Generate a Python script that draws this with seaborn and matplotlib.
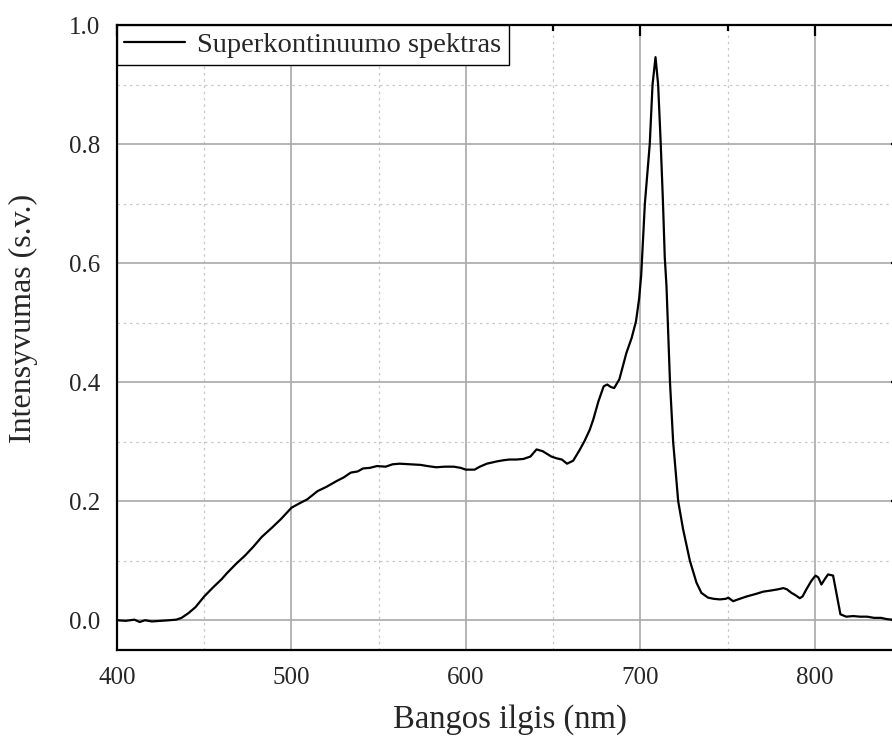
import numpy as np
import pandas as pd
import matplotlib
matplotlib.use("Agg")
import matplotlib.pyplot as plt
from matplotlib.ticker import MultipleLocator
import seaborn as sns

wavelength = [400, 405, 410, 413, 416, 420, 425, 430, 434, 437, 441, 445, 450, 455, 460, 463,
              468, 473.5, 478, 483, 489, 494, 500, 505, 509, 515, 520, 526, 530, 534, 538, 541,
              545, 549, 554, 558, 562, 568, 574, 578, 583, 588, 593, 597, 600, 605, 608, 612,
              618, 622, 625, 629, 633, 637, 640.5, 644, 649, 652, 655, 658, 661.5, 665, 668, 671,
              673, 676, 679, 681, 683, 685, 688, 692, 695, 697.5, 699.3, 700.5, 702.6, 705.4, 707,
              708.7, 710.2, 711.7, 713, 714, 715, 717, 718.8, 721.7, 724.5, 728.4, 732.2, 735,
              738.8, 742, 745.6, 749, 750.4, 753.2, 757, 761, 766, 770.4, 775, 779, 782, 784,
              786.6, 789, 791.4, 793, 795.2, 798, 800.4, 802, 803.8, 805.5, 807.6, 810.5, 812.4,
              814.7, 818, 822, 826, 830, 834, 838, 841, 844, 847]
intensity = [0.000, -0.001, 0.001, -0.003, 0.000, -0.002, -0.001, 0.000, 0.001, 0.004, 0.012, 0.022,
             0.040, 0.055, 0.069, 0.079, 0.094, 0.109, 0.123, 0.140, 0.156, 0.170, 0.189, 0.197,
             0.203, 0.217, 0.224, 0.234, 0.240, 0.248, 0.250, 0.255, 0.256, 0.259, 0.258, 0.262,
             0.263, 0.262, 0.261, 0.259, 0.257, 0.258, 0.258, 0.256, 0.253, 0.253, 0.258, 0.263,
             0.267, 0.269, 0.270, 0.270, 0.271, 0.275, 0.287, 0.284, 0.275, 0.272, 0.270, 0.263,
             0.268, 0.285, 0.301, 0.320, 0.337, 0.368, 0.393, 0.396, 0.392, 0.390, 0.405, 0.449,
             0.474, 0.502, 0.540, 0.580, 0.700, 0.800, 0.900, 0.946, 0.900, 0.800, 0.700, 0.610,
             0.561, 0.400, 0.300, 0.200, 0.153, 0.100, 0.063, 0.046, 0.038, 0.036, 0.035, 0.036,
             0.038, 0.032, 0.036, 0.040, 0.044, 0.048, 0.050, 0.052, 0.054, 0.052, 0.046, 0.042,
             0.037, 0.040, 0.052, 0.066, 0.075, 0.072, 0.060, 0.068, 0.077, 0.075, 0.046, 0.010,
             0.006, 0.007, 0.006, 0.006, 0.004, 0.004, 0.002, 0.001, 0.000]

series_label = "Superkontinuumo spektras"
x_label = "Bangos ilgis (nm)"
y_label = "Intensyvumas (s.v.)"

df = pd.DataFrame({"wl": wavelength, "I": intensity, "s": series_label})

sns.set_style("white")
plt.rcParams["font.family"] = ["Liberation Serif", "DejaVu Serif"]

fig = plt.figure(figsize=(8.92, 7.40), dpi=100)
W, H = 892, 740
ax = fig.add_axes([117 / W, (H - 650) / H, (902 - 117) / W, (650 - 25) / H])

sns.lineplot(data=df, x="wl", y="I", hue="s", palette=["black"], linewidth=1.6,
             ax=ax, sort=False, estimator=None)

ax.set_xlim(400, 850)
ax.set_ylim(-0.05, 1.0)
ax.xaxis.set_major_locator(MultipleLocator(100))
ax.xaxis.set_minor_locator(MultipleLocator(50))
ax.yaxis.set_major_locator(MultipleLocator(0.2))
ax.yaxis.set_minor_locator(MultipleLocator(0.1))
ax.yaxis.set_major_formatter(matplotlib.ticker.FormatStrFormatter("%.1f"))

ax.grid(which="major", color="#a8a8a8", linewidth=1.2, linestyle="-")
ax.grid(which="minor", color="#c8c8c8", linewidth=0.9, linestyle=(0, (2, 3)))
ax.set_axisbelow(True)

ax.tick_params(which="both", direction="in", top=True, right=True, width=1.6, color="black")
ax.tick_params(which="major", length=8, labelsize=18, pad=12)
ax.tick_params(which="minor", length=4)
ax.tick_params(axis="y", which="major", pad=12)

for sp in ax.spines.values():
    sp.set_color("black")
    sp.set_linewidth(1.6)
    sp.set_visible(True)

ax.set_xlabel(x_label, fontsize=23.5)
ax.set_ylabel(y_label, fontsize=23)
ax.xaxis.set_label_coords(0.5, -0.086)
ax.yaxis.set_label_coords(-0.1006, 0.53)

leg = ax.legend(loc="upper left", bbox_to_anchor=(0, 1), borderaxespad=0, fontsize=20.5,
                frameon=True, fancybox=False, handlelength=2.15, handletextpad=0.42,
                borderpad=0.25)
leg.get_frame().set_edgecolor("black")
leg.get_frame().set_linewidth(1.0)
leg.get_frame().set_alpha(1)
for ln in leg.get_lines():
    ln.set_linewidth(1.6)

fig.savefig("out.png", dpi=100)
